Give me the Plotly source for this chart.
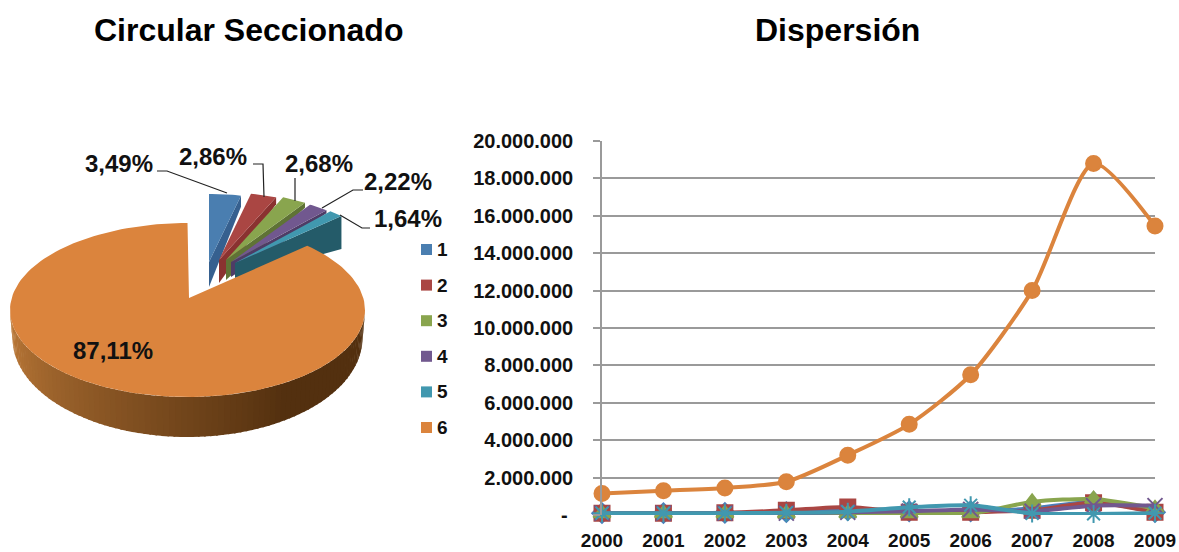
import numpy as np
import plotly.graph_objects as go

# ---- data ----
pie_labels = ["1", "2", "3", "4", "5", "6"]
pie_values = [3.49, 2.86, 2.68, 2.22, 1.64, 87.11]
pie_text = ["3,49%", "2,86%", "2,68%", "2,22%", "1,64%", "87,11%"]
pie_colors = ["#4A7EB0", "#AA4643", "#89A54E", "#71588F", "#4198AF", "#DB843D"]
pie_dark = ["#36608F", "#8A3230", "#5F7335", "#4E3C66", "#245B69", "#5A3215"]

years = [2000, 2001, 2002, 2003, 2004, 2005, 2006, 2007, 2008, 2009]
s1 = [100000, 100000, 110000, 150000, 250000, 200000, 200000, 350000, 700000, 150000]
s2 = [100000, 100000, 120000, 250000, 430000, 150000, 150000, 250000, 650000, 150000]
s3 = [80000, 80000, 80000, 80000, 80000, 80000, 80000, 700000, 850000, 350000]
s4 = [100000, 100000, 100000, 100000, 150000, 200000, 300000, 200000, 500000, 500000]
s5 = [100000, 100000, 100000, 120000, 180000, 420000, 520000, 80000, 60000, 100000]
s6 = [1150000, 1300000, 1450000, 1780000, 3200000, 4850000, 7500000, 12000000, 18800000, 15450000]
ticks = [0, 2000000, 4000000, 6000000, 8000000, 10000000, 12000000, 14000000, 16000000, 18000000, 20000000]
tick_text = ["-\u00a0", "2.000.000", "4.000.000", "6.000.000", "8.000.000", "10.000.000",
             "12.000.000", "14.000.000", "16.000.000", "18.000.000", "20.000.000"]

W, H = 1179, 552
FONT = "Liberation Sans"
fig = go.Figure()

# ---- pie, drawn on a pixel-like hidden axis pair ----
def arc(cx, cy, rx, ry, a0, a1, n=60):
    t = np.radians(np.linspace(a0, a1, n))
    return cx + rx * np.sin(t), cy - ry * np.cos(t)

def poly(x, y, color):
    fig.add_trace(go.Scatter(x=list(x), y=list(y), fill="toself", fillcolor=color, mode="lines",
                             line=dict(width=0, color=color), hoverinfo="skip", showlegend=False,
                             xaxis="x", yaxis="y"))

def lerp(c0, c1, f):
    a = [int(c0[i:i+2], 16) for i in (1, 3, 5)]
    b = [int(c1[i:i+2], 16) for i in (1, 3, 5)]
    return "#%02X%02X%02X" % tuple(int(a[i] + (b[i] - a[i]) * f) for i in range(3))

angles = np.concatenate([[0], np.cumsum(pie_values) * 3.6])
# exploded small slices
apex_x = [209, 219, 226, 231, 235]
apex_y = [262, 260, 260, 262, 263]
apex_depth = [25, 23, 20, 15, 15]
outer_depth = [11, 7, 5, 3, 33]
SRX, SRY = 147, 68
for i in range(5):
    cx, cy = apex_x[i], apex_y[i]
    ax, ay = arc(cx, cy, SRX, SRY, angles[i], angles[i + 1], 12)
    poly([cx, ax[-1], ax[-1], cx, cx],
         [cy, ay[-1], ay[-1] + outer_depth[i], cy + apex_depth[i], cy], pie_dark[i])
    poly(np.r_[cx, ax, cx], np.r_[cy, ay, cy], pie_colors[i])

# big slice (small perspective skew on its leading edge)
CX, CY, RX, RY = 187.5, 310, 177.5, 87
LCX, LCY, LRX, LRY = 187.5, 338, 175, 99
EDGE_SKEW = -4
a0, a1 = angles[5] + EDGE_SKEW, angles[6]
steps = np.linspace(90, 270, 91)
for s0, s1_ in zip(steps[:-1], steps[1:]):
    tx, ty = arc(CX, CY, RX, RY, s0, s1_ + 0.6, 4)
    bx, by = arc(LCX, LCY, LRX, LRY, s0, s1_ + 0.6, 4)
    f = (270 - (s0 + s1_) / 2) / 180
    c = lerp("#C07C3A", "#53300F", min(1.0, f * 1.45))
    poly(np.r_[tx, bx[::-1]], np.r_[ty, by[::-1]], c)
ax, ay = arc(CX, CY, RX, RY, a0, a1, 160)
poly(np.r_[189, ax, 189], np.r_[298, ay, 298], pie_colors[5])

# leader lines
leaders = [
    ([157, 167, 227], [171, 171, 193]),
    ([253, 263, 264], [164, 164, 197]),
    ([295, 295], [178, 201]),
    ([363, 353, 322], [190, 190, 208]),
    ([370, 362, 340], [228, 228, 215]),
]
for lx, ly in leaders:
    fig.add_trace(go.Scatter(x=lx, y=ly, mode="lines", line=dict(color="#222222", width=1.2),
                             hoverinfo="skip", showlegend=False, xaxis="x", yaxis="y"))

label_pos = [(119, 163), (213, 156), (319, 163), (398, 181), (408, 218), (113, 350)]
for (lx, ly), t in zip(label_pos, pie_text):
    fig.add_annotation(x=lx, y=ly, xref="x", yref="y", text="<b>%s</b>" % t, showarrow=False,
                       font=dict(family=FONT, size=24, color="#111111"))

# legend
for i, lab in enumerate(pie_labels):
    ly = 249.5 + i * 35.6
    fig.add_trace(go.Scatter(x=[426.5], y=[ly], mode="markers",
                             marker=dict(symbol="square", size=11, color=pie_colors[i]),
                             hoverinfo="skip", showlegend=False, xaxis="x", yaxis="y"))
    fig.add_annotation(x=442, y=ly, xref="x", yref="y", text="<b>%s</b>" % lab, showarrow=False,
                       font=dict(family=FONT, size=19, color="#111111"))

# ---- line chart ----
series = [
    (s1, "#4A7EBB", "diamond"),
    (s2, "#AA4643", "square"),
    (s3, "#89A54E", "triangle-up"),
    (s4, "#71588F", "x-thin"),
    (s5, "#4198AF", "asterisk"),
    (s6, "#DB843D", "circle"),
]
for k in [5, 0, 1, 2, 3, 4]:
    vals, col, sym = series[k]
    mk = dict(symbol=sym, size=15, color=col, line=dict(color=col, width=2))
    fig.add_trace(go.Scatter(x=years, y=vals, mode="lines+markers",
                             line=dict(color=col, width=4, shape="spline", smoothing=0.7),
                             marker=mk, cliponaxis=False, hoverinfo="skip", showlegend=False,
                             xaxis="x2", yaxis="y2"))

fig.update_layout(
    width=W, height=H, autosize=False, paper_bgcolor="white", plot_bgcolor="rgba(0,0,0,0)",
    margin=dict(l=0, r=0, t=0, b=0, pad=0, autoexpand=False),
    font=dict(family=FONT),
    xaxis=dict(domain=[0, 1], range=[0, W], visible=False, fixedrange=True, automargin=False),
    yaxis=dict(domain=[0, 1], range=[H, 0], visible=False, fixedrange=True, automargin=False),
    xaxis2=dict(domain=[602 / W, 1155 / W], anchor="y2", range=[2000, 2009], tickmode="array", tickvals=years,
                ticktext=["<b>%d</b>" % y for y in years], showgrid=False, showline=False, ticks="",
                ticklabelstandoff=12, automargin=False,
                tickfont=dict(family=FONT, size=19, color="#111111"), zeroline=False, fixedrange=True),
    yaxis2=dict(domain=[1 - 515 / H, 1 - 141 / H], anchor="x2", range=[0, 20000000], tickmode="array", tickvals=ticks,
                ticktext=["<b>%s</b>" % t for t in tick_text], showgrid=True, gridcolor="#9A9A9A", gridwidth=1.5,
                showline=True, linecolor="#9A9A9A", linewidth=1.5, zeroline=False, ticks="outside", ticklen=7,
                tickcolor="#9A9A9A", tickwidth=1.5, ticklabelstandoff=16, automargin=False,
                tickfont=dict(family=FONT, size=20, color="#111111"), fixedrange=True),
)
for txt, x in [("Circular Seccionado", 248), ("Dispersión", 837)]:
    fig.add_annotation(x=x, y=30, xref="x", yref="y", text="<b>%s</b>" % txt, showarrow=False,
                       font=dict(family=FONT, size=32, color="#000000"))

fig.write_html("out.html", config=dict(displayModeBar=False),
               post_script="document.body.style.margin='0';")
